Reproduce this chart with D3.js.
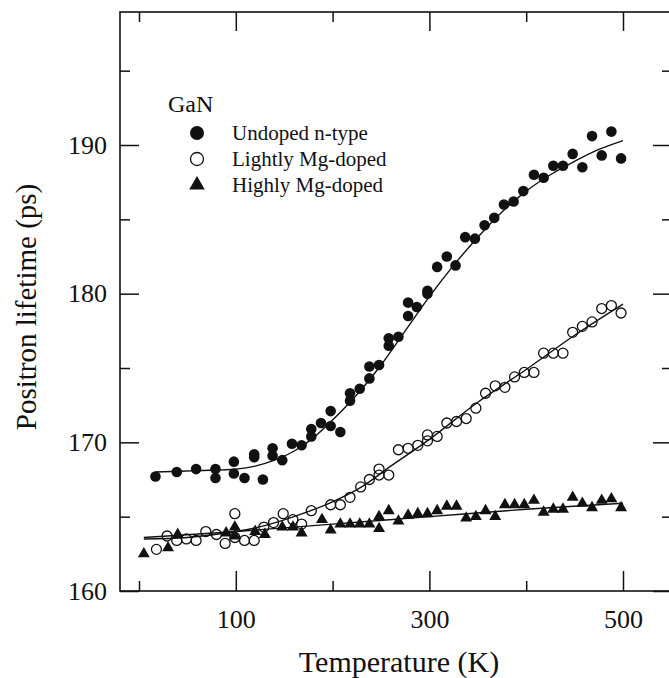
<!DOCTYPE html>
<html>
<head>
<meta charset="utf-8">
<script src="https://cdn.jsdelivr.net/npm/d3@7"></script>
<style>
  body { margin: 0; background: #fff; }
  text { font-family: "Liberation Serif", "Times New Roman", serif; fill: #111; }
</style>
</head>
<body>
<script>
// Data: [temperature K, lifetime ps]
const undoped = [[17,167.7],[39,168.0],[59,168.2],[79,168.2],[79,167.6],[98,168.7],[98,167.9],[109,167.6],
    [119,169.0],[119,169.2],[128,167.5],[138,169.6],[138,169.1],[148,168.8],[158,169.9],[168,169.8],
    [178,170.9],[178,170.4],[188,171.3],[198,172.1],[198,171.1],[208,170.7],[218,173.3],[218,172.8],
    [228,173.6],[238,175.1],[238,174.3],[248,175.2],[258,177.0],[258,176.5],[268,177.1],[278,179.4],
    [278,178.5],[287,179.1],[298,180.2],[298,180.0],[308,181.8],[318,182.5],[327,181.9],[337,183.8],
    [347,183.7],[357,184.6],[367,185.1],[377,186.0],[387,186.2],[397,186.9],[408,188.0],[418,187.8],
    [428,188.6],[438,188.6],[448,189.4],[458,188.5],[468,190.6],[478,189.3],[488,190.9],[498,189.1]];

const lightly = [[18,162.8],[29,163.7],[39,163.4],[49,163.5],[59,163.4],[69,164.0],[80,163.8],[89,163.2],
    [99,165.2],[99,163.6],[109,163.4],[119,163.4],[129,164.3],[139,164.6],[149,165.2],[159,164.8],
    [168,164.5],[178,165.4],[198,165.8],[208,165.8],[218,166.3],[229,167.0],[238,167.5],[248,168.2],
    [248,167.8],[258,167.8],[268,169.5],[278,169.6],[288,169.8],[298,170.5],[298,170.1],[308,170.4],
    [318,171.3],[328,171.4],[338,171.6],[348,172.3],[358,173.3],[368,173.8],[378,173.7],[388,174.4],
    [398,174.7],[408,174.7],[418,176.0],[428,176.0],[438,176.0],[448,177.4],[458,177.8],[468,178.1],
    [478,179.0],[488,179.2],[498,178.7]];

const highly = [[5,162.5],[30,162.9],[40,163.8],[90,163.9],[99,164.3],[99,163.7],[120,164.0],[130,163.8],
    [148,164.3],[159,164.3],[168,163.9],[189,164.8],[198,164.1],[208,164.5],[218,164.5],[228,164.5],
    [238,164.5],[248,165.0],[248,164.2],[258,165.4],[268,164.7],[278,165.1],[288,165.2],[298,165.2],
    [308,165.4],[318,165.7],[328,165.7],[338,164.9],[348,165.0],[358,165.4],[368,165.0],[378,165.8],
    [388,165.8],[398,165.8],[408,166.1],[418,165.3],[428,165.5],[438,165.5],[448,166.3],[458,165.9],
    [468,165.6],[478,166.1],[488,166.2],[498,165.6]];

// fitted curves, read at intervals along the drawn lines
const undopedFit = [[17,168.0],[60,168.1],[100,168.2],[120,168.4],[140,168.8],[160,169.4],[180,170.3],
    [200,171.5],[225,173.2],[250,175.2],[275,177.5],[300,179.8],[325,181.9],[350,183.8],[375,185.5],
    [400,186.9],[425,188.0],[450,188.9],[475,189.7],[500,190.3]];
const lightlyFit = [[5,163.5],[50,163.6],[100,164.0],[130,164.4],[160,165.0],[200,166.0],[230,167.0],
    [260,168.4],[300,170.2],[350,172.7],[400,174.9],[450,177.2],[500,179.3]];
const highlyFit = [[5,163.6],[100,164.0],[200,164.5],[300,165.0],[400,165.5],[500,165.9]];

const xMajor = [100, 300, 500];
const xMinor = [0, 200, 400];
const yMajor = [160, 170, 180, 190];
const yMinor = [165, 175, 185, 195];

const legendLabels = ['Undoped n-type', 'Lightly Mg-doped', 'Highly Mg-doped'];

const W = 669, H = 678;
const frame = {left: 120, right: 672, top: 12, bottom: 591};

const svg = d3.select('body').append('svg').attr('width', W).attr('height', H);

const x = d3.scaleLinear().domain([0, 500]).range([139, 623]);
const y = d3.scaleLinear().domain([160, 190]).range([591, 145]);

// Frame
svg.append('rect')
    .attr('x', frame.left).attr('y', frame.top)
    .attr('width', frame.right - frame.left).attr('height', frame.bottom - frame.top)
    .attr('fill', 'none').attr('stroke', '#111').attr('stroke-width', 1.6);

function styleAxis(g) {
    g.select('.domain').remove();
    g.selectAll('line').attr('stroke', '#111').attr('stroke-width', 1.5);
    g.selectAll('text').attr('font-family', '"Liberation Serif", serif').attr('fill', '#111');
}

// Bottom axis
svg.append('g').attr('transform', `translate(0,${frame.bottom})`)
    .call(d3.axisBottom(x).tickValues(xMajor).tickSizeInner(-20).tickSizeOuter(0).tickPadding(18.5))
    .call(styleAxis)
    .selectAll('text').attr('font-size', 26);
svg.append('g').attr('transform', `translate(0,${frame.bottom})`)
    .call(d3.axisBottom(x).tickValues(xMinor).tickSizeInner(-10).tickSizeOuter(0).tickFormat(''))
    .call(styleAxis);

// Top axis
svg.append('g').attr('transform', `translate(0,${frame.top})`)
    .call(d3.axisTop(x).tickValues(xMajor).tickSizeInner(-19).tickSizeOuter(0).tickFormat(''))
    .call(styleAxis);
svg.append('g').attr('transform', `translate(0,${frame.top})`)
    .call(d3.axisTop(x).tickValues(xMinor).tickSizeInner(-10).tickSizeOuter(0).tickFormat(''))
    .call(styleAxis);

// Left axis
svg.append('g').attr('transform', `translate(${frame.left},0)`)
    .call(d3.axisLeft(y).tickValues(yMajor).tickSizeInner(-19).tickSizeOuter(0).tickPadding(13))
    .call(styleAxis)
    .selectAll('text').attr('font-size', 26);
svg.append('g').attr('transform', `translate(${frame.left},0)`)
    .call(d3.axisLeft(y).tickValues(yMinor).tickSizeInner(-10).tickSizeOuter(0).tickFormat(''))
    .call(styleAxis);

// Right axis
svg.append('g').attr('transform', `translate(${frame.right},0)`)
    .call(d3.axisRight(y).tickValues(yMajor).tickSizeInner(-19).tickSizeOuter(0).tickFormat(''))
    .call(styleAxis);
svg.append('g').attr('transform', `translate(${frame.right},0)`)
    .call(d3.axisRight(y).tickValues(yMinor).tickSizeInner(-10).tickSizeOuter(0).tickFormat(''))
    .call(styleAxis);

// Axis titles
svg.append('text')
    .attr('x', 399).attr('y', 672)
    .attr('text-anchor', 'middle')
    .attr('font-size', 30)
    .text('Temperature (K)');

svg.append('text')
    .attr('transform', 'translate(36,307) rotate(-90)')
    .attr('text-anchor', 'middle')
    .attr('font-size', 29)
    .text('Positron lifetime (ps)');

// Fit lines
const line = d3.line().x(d => x(d[0])).y(d => y(d[1])).curve(d3.curveCatmullRom.alpha(0.5));
[undopedFit, lightlyFit, highlyFit].forEach(fit => {
    svg.append('path').datum(fit)
        .attr('d', line)
        .attr('fill', 'none')
        .attr('stroke', '#111')
        .attr('stroke-width', 1.4);
});

// Points
const tri = d3.symbol().type(d3.symbolTriangle).size(62);

svg.append('g').selectAll('path').data(highly).join('path')
    .attr('d', tri)
    .attr('transform', d => `translate(${x(d[0])},${y(d[1])})`)
    .attr('fill', '#111');

svg.append('g').selectAll('circle').data(lightly).join('circle')
    .attr('cx', d => x(d[0])).attr('cy', d => y(d[1])).attr('r', 5)
    .attr('fill', 'none').attr('stroke', '#111').attr('stroke-width', 1.3);

svg.append('g').selectAll('circle').data(undoped).join('circle')
    .attr('cx', d => x(d[0])).attr('cy', d => y(d[1])).attr('r', 5.3)
    .attr('fill', '#111');

// Legend
const legend = svg.append('g');
legend.append('text').attr('x', 168).attr('y', 112).attr('font-size', 24).text('GaN');

const rowY = [133, 159, 185];
legend.append('circle').attr('cx', 197).attr('cy', rowY[0]).attr('r', 7).attr('fill', '#111');
legend.append('circle').attr('cx', 197).attr('cy', rowY[1]).attr('r', 6.5)
    .attr('fill', 'none').attr('stroke', '#111').attr('stroke-width', 1.3);
legend.append('path').attr('d', d3.symbol().type(d3.symbolTriangle).size(105))
    .attr('transform', `translate(197,${rowY[2]})`).attr('fill', '#111');

legend.selectAll('text.item').data(legendLabels).join('text')
    .attr('class', 'item')
    .attr('x', 232).attr('y', (d, i) => rowY[i]).attr('dy', '0.35em')
    .attr('font-size', 21)
    .text(d => d);
</script>
</body>
</html>
